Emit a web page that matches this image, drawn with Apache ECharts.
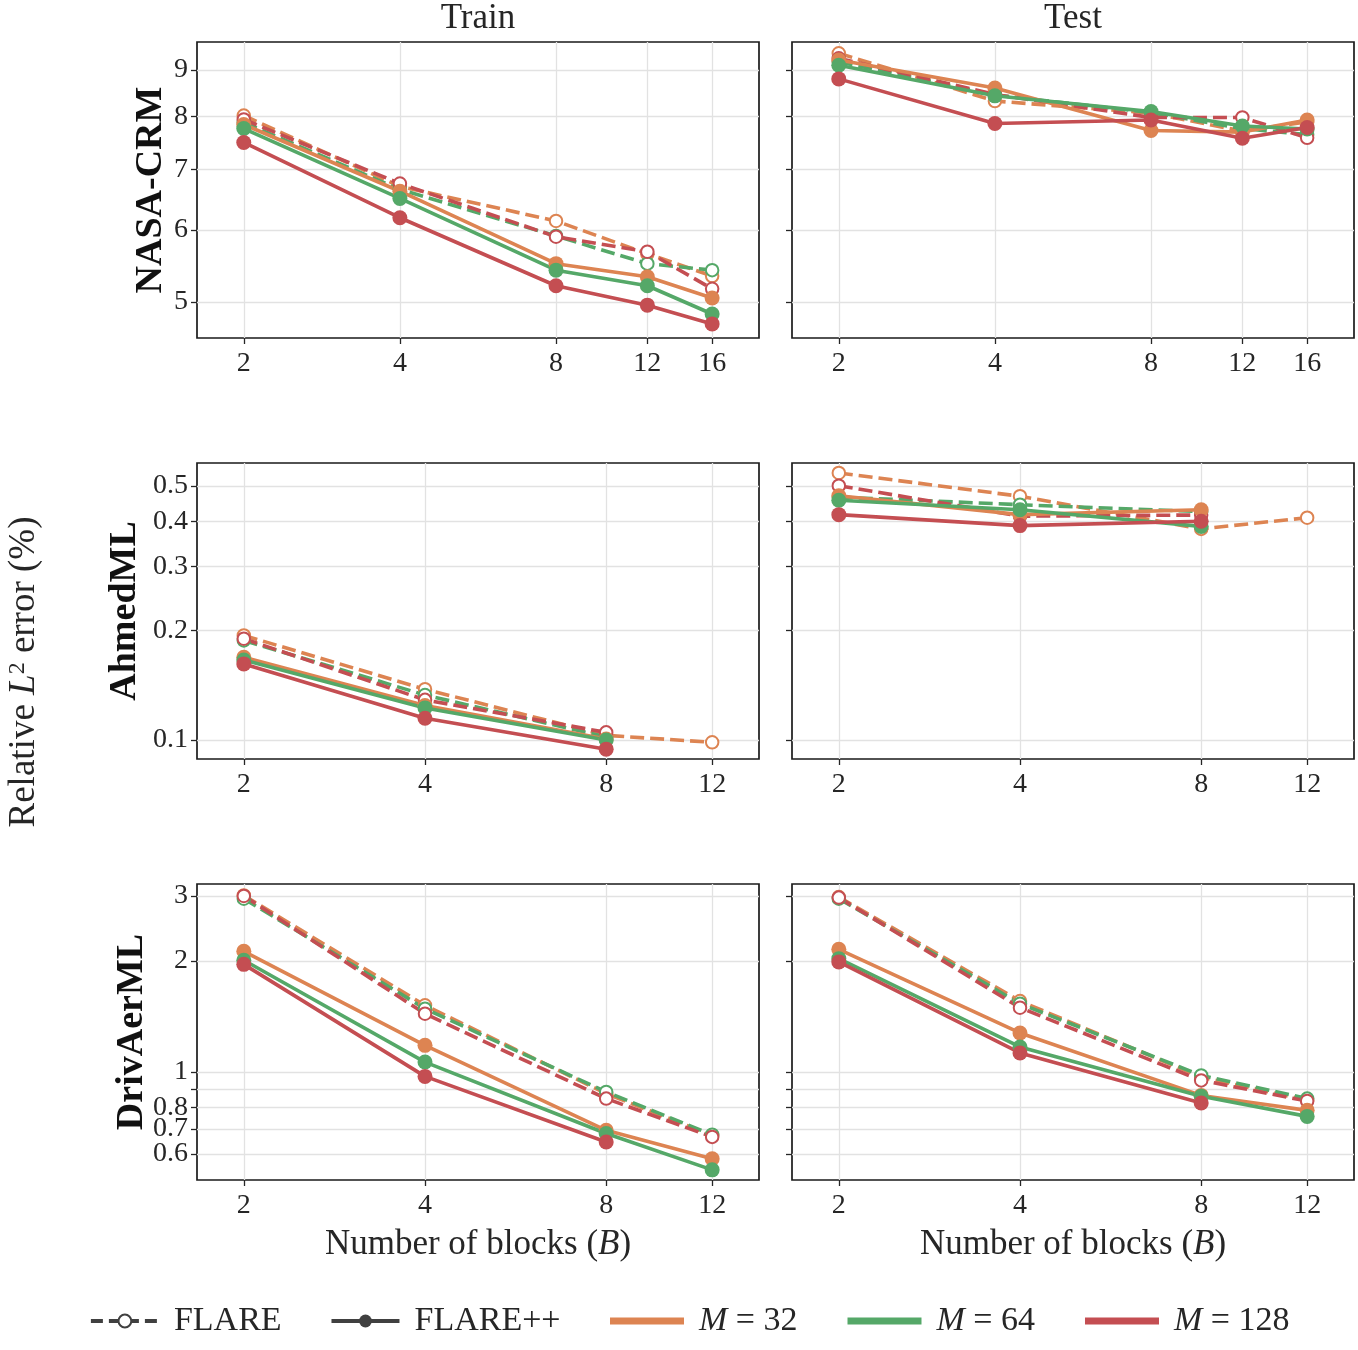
<!DOCTYPE html>
<html>
<head>
<meta charset="utf-8">
<title>FLARE vs FLARE++ relative error</title>
<script src="https://cdn.jsdelivr.net/npm/echarts@6/dist/echarts.min.js"></script>
<style>
  html, body { margin: 0; padding: 0; background: #fff; }
  #chart { width: 1358px; height: 1350px; }
</style>
</head>
<body>
<div id="chart"></div>
<script>
// x values (number of blocks B)
var blocksNasa = [2, 4, 8, 12, 16];
var blocksOther = [2, 4, 8, 12];

// tick labels per row (log y axes)
var nasaTicks = [5, 6, 7, 8, 9];
var ahmedTicks = [0.1, 0.2, 0.3, 0.4, 0.5];
var drivTicks = [0.6, 0.7, 0.8, 0.9, 1, 2, 3];
// order keeps the first two labels apart so echarts doesn't drop 0.7
var drivLabels = [0.6, 0.8, 0.7, 1, 2, 3];

var legendNames = ['FLARE', 'FLARE++'];
var mNames = ['M = 32', 'M = 64', 'M = 128'];
var rowNames = ['NASA-CRM', 'AhmedML', 'DrivAerML'];
var colNames = ['Train', 'Test'];

// NASA-CRM, train
var nasaTrainFlare32 = [8.02, 6.70, 6.14, 5.65, 5.34];
var nasaTrainFlare64 = [7.88, 6.65, 5.91, 5.51, 5.42];
var nasaTrainFlare128 = [7.94, 6.75, 5.90, 5.68, 5.17];
var nasaTrainPlus32 = [7.84, 6.62, 5.51, 5.33, 5.05];
var nasaTrainPlus64 = [7.76, 6.50, 5.42, 5.21, 4.85];
var nasaTrainPlus128 = [7.49, 6.19, 5.21, 4.96, 4.73];
// NASA-CRM, test
var nasaTestFlare32 = [9.39, 8.32, 8.07, 7.71, 7.89];
var nasaTestFlare64 = [9.19, 8.45, 8.08, 7.76, 7.64];
var nasaTestFlare128 = [9.27, 8.46, 7.98, 7.98, 7.58];
var nasaTestPlus32 = [9.23, 8.60, 7.72, 7.69, 7.93];
var nasaTestPlus64 = [9.11, 8.43, 8.10, 7.81, 7.75];
var nasaTestPlus128 = [8.80, 7.86, 7.93, 7.57, 7.78];
// AhmedML, train
var ahmedTrainFlare32 = [0.194, 0.138, 0.103, 0.0986];
var ahmedTrainFlare64 = [0.188, 0.133, 0.102];
var ahmedTrainFlare128 = [0.190, 0.129, 0.105];
var ahmedTrainPlus32 = [0.169, 0.1245, 0.1006];
var ahmedTrainPlus64 = [0.166, 0.1226, 0.100];
var ahmedTrainPlus128 = [0.162, 0.1148, 0.0944];
// AhmedML, test
var ahmedTestFlare32 = [0.543, 0.4685, 0.381, 0.409];
var ahmedTestFlare64 = [0.466, 0.444, 0.425];
var ahmedTestFlare128 = [0.501, 0.413, 0.416];
var ahmedTestPlus32 = [0.470, 0.417, 0.430];
var ahmedTestPlus64 = [0.4566, 0.430, 0.387];
var ahmedTestPlus128 = [0.417, 0.389, 0.400];
// DrivAerML, train
var drivTrainFlare32 = [3.01, 1.516, 0.874, 0.673];
var drivTrainFlare64 = [2.95, 1.485, 0.883, 0.676];
var drivTrainFlare128 = [3.00, 1.439, 0.847, 0.667];
var drivTrainPlus32 = [2.124, 1.181, 0.695, 0.582];
var drivTrainPlus64 = [2.008, 1.064, 0.681, 0.543];
var drivTrainPlus128 = [1.958, 0.973, 0.646];
// DrivAerML, test
var drivTestFlare32 = [2.98, 1.557, 0.969, 0.838];
var drivTestFlare64 = [2.95, 1.532, 0.979, 0.847];
var drivTestFlare128 = [2.97, 1.494, 0.949, 0.834];
var drivTestPlus32 = [2.15, 1.276, 0.864, 0.787];
var drivTestPlus64 = [2.029, 1.169, 0.859, 0.758];
var drivTestPlus128 = [1.988, 1.126, 0.824];

var colors = ['#DD8452', '#55A868', '#C44E52'];
var ink = '#262626';
var serif = '"Liberation Serif", "DejaVu Serif", serif';

var panels = [
  { blocks: blocksNasa, flare: [nasaTrainFlare32, nasaTrainFlare64, nasaTrainFlare128], plus: [nasaTrainPlus32, nasaTrainPlus64, nasaTrainPlus128] },
  { blocks: blocksNasa, flare: [nasaTestFlare32, nasaTestFlare64, nasaTestFlare128], plus: [nasaTestPlus32, nasaTestPlus64, nasaTestPlus128] },
  { blocks: blocksOther, flare: [ahmedTrainFlare32, ahmedTrainFlare64, ahmedTrainFlare128], plus: [ahmedTrainPlus32, ahmedTrainPlus64, ahmedTrainPlus128] },
  { blocks: blocksOther, flare: [ahmedTestFlare32, ahmedTestFlare64, ahmedTestFlare128], plus: [ahmedTestPlus32, ahmedTestPlus64, ahmedTestPlus128] },
  { blocks: blocksOther, flare: [drivTrainFlare32, drivTrainFlare64, drivTrainFlare128], plus: [drivTrainPlus32, drivTrainPlus64, drivTrainPlus128] },
  { blocks: blocksOther, flare: [drivTestFlare32, drivTestFlare64, drivTestFlare128], plus: [drivTestPlus32, drivTestPlus64, drivTestPlus128] }
];

// per row layout: grid top, x range (log2 padded), y range, ticks
var rows = [
  { top: 42, xmin: 1.625, xmax: 19.70, ymin: 4.564, ymax: 9.662, ticks: nasaTicks, labels: nasaTicks, nameGap: 27, xTicks: blocksNasa },
  { top: 463, xmin: 1.672, xmax: 14.355, ymin: 0.0887, ymax: 0.5783, ticks: ahmedTicks, labels: ahmedTicks, nameGap: 53, xTicks: blocksOther },
  { top: 884, xmin: 1.672, xmax: 14.355, ymin: 0.5096, ymax: 3.233, ticks: drivTicks, labels: drivLabels, nameGap: 46, xTicks: blocksOther }
];
var colLeft = [197, 792];

function fmt(v) {
  return String(+Number(v).toFixed(2));
}

var grids = [], xAxes = [], yAxes = [], series = [];

rows.forEach(function (row, r) {
  colLeft.forEach(function (left, c) {
    var g = r * 2 + c;
    grids.push({
      left: left, top: row.top, width: 562, height: 296,
      show: true, borderColor: '#1a1a1a', borderWidth: 1.7, backgroundColor: 'transparent',
      containLabel: false, outerBoundsMode: 'none'
    });
    xAxes.push({
      type: 'log', logBase: 2, gridIndex: g, min: row.xmin, max: row.xmax,
      name: r === 2 ? 'Number of blocks ({i|B})' : '',
      nameLocation: 'middle', nameGap: 47, nameMoveOverlap: false,
      nameTextStyle: { fontSize: 35, color: ink, fontFamily: serif, rich: { i: { fontSize: 35, fontStyle: 'italic', fontFamily: serif, color: ink } } },
      axisLine: { show: false },
      axisTick: { show: true, customValues: row.xTicks, length: 6, lineStyle: { color: ink, width: 1.3 } },
      axisLabel: {
        show: true, customValues: row.xTicks, formatter: fmt, fontSize: 28, fontFamily: serif, color: ink,
        margin: 12, hideOverlap: false, showMinLabel: true, showMaxLabel: true
      },
      splitLine: { show: true, lineStyle: { color: '#e2e2e2', width: 1.3 } },
      minorTick: { show: false }, minorSplitLine: { show: false }
    });
    yAxes.push({
      type: 'log', logBase: 10, gridIndex: g, min: row.ymin, max: row.ymax,
      name: c === 0 ? rowNames[r] : '',
      nameLocation: 'middle', nameGap: row.nameGap, nameRotate: 90, nameMoveOverlap: false,
      nameTextStyle: { fontSize: 38, fontWeight: 'bold', color: '#111', fontFamily: serif },
      axisLine: { show: false },
      axisTick: { show: true, customValues: row.ticks, length: 6, lineStyle: { color: ink, width: 1.3 } },
      axisLabel: {
        show: c === 0, customValues: row.labels, formatter: fmt, fontSize: 28, lineHeight: 20,
        fontFamily: serif, color: ink, margin: 9, hideOverlap: false, showMinLabel: true, showMaxLabel: true
      },
      splitLine: { show: true, lineStyle: { color: '#e2e2e2', width: 1.3 } },
      minorTick: { show: false }, minorSplitLine: { show: false }
    });
  });
});

function makeLine(name, g, blocks, vals, color, dashed) {
  return {
    name: name, type: 'line', xAxisIndex: g, yAxisIndex: g,
    data: vals.map(function (v, i) { return [blocks[i], v]; }),
    symbol: dashed ? 'emptyCircle' : 'circle',
    symbolSize: dashed ? 12.5 : 15,
    itemStyle: dashed ? { color: color, borderColor: color, borderWidth: 2.8 } : { color: color },
    lineStyle: { color: color, width: 3.6, type: dashed ? [14, 6] : 'solid' },
    emphasis: { disabled: true },
    animation: false
  };
}

panels.forEach(function (p, g) {
  p.flare.forEach(function (vals, m) {
    series.push(makeLine('FLARE ' + mNames[m] + ' #' + g, g, p.blocks, vals, colors[m], true));
  });
  p.plus.forEach(function (vals, m) {
    series.push(makeLine('FLARE++ ' + mNames[m] + ' #' + g, g, p.blocks, vals, colors[m], false));
  });
});

// legend-only series
series.push({
  name: 'FLARE', type: 'line', xAxisIndex: 0, yAxisIndex: 0, data: [],
  symbol: 'emptyCircle', itemStyle: { color: '#404040', borderWidth: 2.5 },
  lineStyle: { color: '#404040', width: 3.6, type: [12, 6] }
});
series.push({
  name: 'FLARE++', type: 'line', xAxisIndex: 0, yAxisIndex: 0, data: [],
  symbol: 'circle', itemStyle: { color: '#404040' },
  lineStyle: { color: '#404040', width: 3.6 }
});
mNames.forEach(function (n, m) {
  series.push({
    name: n, type: 'line', xAxisIndex: 0, yAxisIndex: 0, data: [],
    symbol: 'none', itemStyle: { color: colors[m] }, lineStyle: { color: colors[m], width: 6 }
  });
});

var chart = echarts.init(document.getElementById('chart'));
chart.setOption({
  animation: false,
  backgroundColor: '#fff',
  textStyle: { fontFamily: serif },
  grid: grids,
  xAxis: xAxes,
  yAxis: yAxes,
  series: series,
  legend: [
    {
      left: 84, top: 1299, itemWidth: 68, itemHeight: 16, itemGap: 48, selectedMode: false,
      data: legendNames,
      lineStyle: { width: 3.8 },
      textStyle: { fontSize: 34, color: ink, fontFamily: serif, padding: [0, 0, 0, 10] }
    },
    {
      left: 605, top: 1299, itemWidth: 74, itemHeight: 7, itemGap: 50, selectedMode: false,
      icon: 'rect',
      data: mNames,
      formatter: function (name) { return '{i|M}' + name.slice(1); },
      textStyle: {
        fontSize: 34, color: ink, fontFamily: serif, padding: [0, 0, 0, 10],
        rich: { i: { fontSize: 34, fontStyle: 'italic', fontFamily: serif, color: ink } }
      }
    }
  ],
  graphic: [
    {
      type: 'text', x: 478, y: 19,
      style: { text: colNames[0], fontSize: 35, fontFamily: serif, fill: ink, align: 'center', verticalAlign: 'middle' }
    },
    {
      type: 'text', x: 1073, y: 19,
      style: { text: colNames[1], fontSize: 35, fontFamily: serif, fill: ink, align: 'center', verticalAlign: 'middle' }
    },
    {
      type: 'text', x: 24, y: 672, rotation: Math.PI / 2,
      style: {
        text: 'Relative {i|L}{s|2} error (%)', fontSize: 37, fontFamily: serif, fill: ink,
        align: 'center', verticalAlign: 'middle',
        rich: {
          i: { fontSize: 37, fontStyle: 'italic', fontFamily: serif, fill: ink },
          s: { fontSize: 24, fontFamily: serif, fill: ink, verticalAlign: 'top', lineHeight: 24 }
        }
      }
    }
  ]
});
</script>
</body>
</html>
